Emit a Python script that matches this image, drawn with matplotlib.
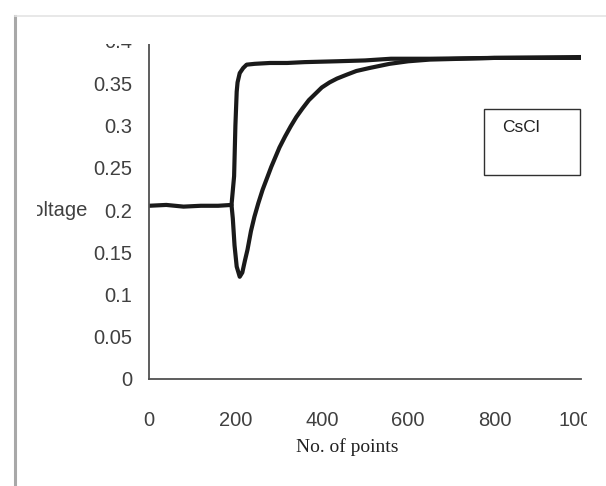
import matplotlib
matplotlib.use('Agg')
import matplotlib.pyplot as plt
from matplotlib.patches import Rectangle
from matplotlib.lines import Line2D

# data
fast_x = [0, 40, 80, 120, 160, 191, 197, 200, 203, 205, 210, 218, 226, 245, 280, 320,
          360, 434, 500, 560, 650, 800, 1000]
fast_y = [0.205, 0.206, 0.204, 0.205, 0.205, 0.206, 0.240, 0.300, 0.340, 0.351, 0.362,
          0.368, 0.372, 0.373, 0.374, 0.374, 0.375, 0.376, 0.377, 0.379, 0.379, 0.380, 0.381]

slow_x = [191, 194, 198, 203, 210, 216, 222, 228, 236, 244, 253, 263, 283, 302, 315, 328,
          341, 355, 370, 388, 400, 418, 435, 457, 480, 510, 557, 600, 650, 800, 1000]
slow_y = [0.206, 0.190, 0.158, 0.133, 0.121, 0.126, 0.140, 0.153, 0.175, 0.192, 0.208,
          0.224, 0.251, 0.274, 0.287, 0.299, 0.310, 0.320, 0.330, 0.339, 0.345, 0.351,
          0.3555, 0.360, 0.3645, 0.368, 0.373, 0.376, 0.378, 0.380, 0.380]

xticks = [0, 200, 400, 600, 800, 1000]
yticks = [0, 0.05, 0.1, 0.15, 0.2, 0.25, 0.3, 0.35, 0.4]
ytick_labels = ['0', '0.05', '0.1', '0.15', '0.2', '0.25', '0.3', '0.35', '0.4']

W, H = 606, 486
sans = ['Liberation Sans', 'DejaVu Sans']

def fx(px):
    return px / W

def fy(py):
    return 1 - py / H

fig = plt.figure(figsize=(W / 100, H / 100), dpi=100)
ax = fig.add_axes([fx(149), fy(379), (581 - 149) / W, (379 - 41) / H])

for xs, ys in [(fast_x, fast_y), (slow_x, slow_y)]:
    ax.plot(xs, ys, color='#1a1a1a', lw=3, solid_joinstyle='round', solid_capstyle='round')

ax.set_xlim(0, 1000)
ax.set_ylim(0, 0.4)
ax.set_xticks(xticks)
ax.set_yticks(yticks)
ax.set_yticklabels(ytick_labels)
ax.tick_params(length=0, colors='#404040', labelsize=14.5)
ax.tick_params(axis='x', pad=23)
ax.tick_params(axis='y', pad=12)
for lab in ax.get_xticklabels() + ax.get_yticklabels():
    lab.set_family(sans)
for s in ['top', 'right']:
    ax.spines[s].set_visible(False)
for s in ['left', 'bottom']:
    ax.spines[s].set_color('#505050')
    ax.spines[s].set_linewidth(1.3)

ax.text(-61 / 0.432, 0.2, 'Voltage', ha='right', va='center', fontsize=14.5,
        family=sans, color='#404040')
fig.text(fx(347), fy(447), 'No. of points', ha='center', va='center', fontsize=14,
         family=['Liberation Serif', 'DejaVu Serif'], color='#222222')

# CsCl box
fig.add_artist(Rectangle((fx(484), fy(175)), 96 / W, 66 / H, transform=fig.transFigure,
                         facecolor='white', edgecolor='#303030', lw=1))
fig.text(fx(502), fy(128), 'CsCl', ha='left', va='center', fontsize=12.5,
         family=sans, color='#222222')

# cropped edges of the original screenshot
for x0, y0, w, h in [(17, 17, W - 17, 27), (17, 17, 20, H - 17), (587, 17, W - 587, H - 17)]:
    fig.add_artist(Rectangle((fx(x0), fy(y0 + h)), w / W, h / H, transform=fig.transFigure,
                             facecolor='white', edgecolor='none', zorder=20))

fig.add_artist(Line2D([fx(15), fx(15)], [fy(16), 0], transform=fig.transFigure,
                      color='#a8a8a8', lw=2.2, zorder=21))
fig.add_artist(Line2D([fx(15), 1], [fy(16), fy(16)], transform=fig.transFigure,
                      color='#e4e4e4', lw=1.2, zorder=21))

fig.savefig('out.png', dpi=100)
